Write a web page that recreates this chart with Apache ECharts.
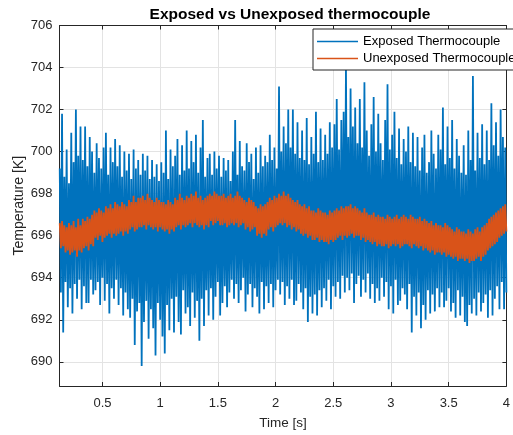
<!DOCTYPE html>
<html>
<head>
<meta charset="utf-8">
<script src="https://cdn.jsdelivr.net/npm/echarts@6/dist/echarts.min.js"></script>
<style>
  html, body { margin: 0; padding: 0; background: #ffffff; }
  #chart { width: 513px; height: 435px; }
</style>
</head>
<body>
<div id="chart"></div>
<script>
// Sample clock of the logger (seconds)
const timeStart = 0.13;
const timeStep = 0.01;

// Exposed thermocouple readings [K]
const exposedK = [
  699.2, 693.3, 701.8, 691.4, 698.8, 693.8, 700.1, 692.6, 698.5, 693.5,
  700.9, 692.3, 699.5, 693.7, 702.0, 693.0, 699.8, 693.9, 701.2, 692.5,
  699.6, 693.6, 701.2, 692.8, 699.3, 692.8, 700.7, 693.9, 700.0, 693.2,
  699.0, 693.4, 700.4, 693.8, 699.7, 692.7, 699.2, 694.0, 700.2, 692.9,
  700.9, 693.7, 698.9, 692.3, 700.2, 693.5, 699.5, 693.0, 700.6, 693.9,
  699.3, 692.7, 700.3, 693.5, 698.8, 692.2, 700.0, 693.3, 699.1, 692.5,
  699.9, 692.1, 698.7, 693.0, 700.1, 690.8, 699.2, 692.4, 699.6, 692.8,
  698.9, 689.8, 699.9, 691.9, 699.1, 692.9, 699.8, 691.1, 698.7, 692.5,
  699.6, 691.6, 698.8, 690.3, 699.4, 692.8, 698.6, 692.0, 699.5, 691.2,
  699.0, 690.4, 701.0, 692.7, 698.7, 691.5, 700.1, 693.0, 699.3, 691.4,
  699.8, 693.1, 700.6, 691.9, 698.9, 691.3, 700.3, 693.4, 699.1, 692.3,
  701.0, 692.6, 699.2, 691.7, 700.5, 693.3, 699.5, 692.1, 700.8, 692.9,
  699.0, 691.0, 700.2, 693.0, 701.5, 691.7, 698.8, 693.4, 699.7, 692.2,
  699.9, 693.5, 698.9, 692.0, 700.0, 693.1, 699.2, 693.8, 699.8, 692.2,
  698.8, 692.8, 699.7, 693.6, 699.1, 692.6, 699.6, 693.3, 698.6, 693.9,
  700.0, 693.0, 701.5, 693.7, 698.9, 692.8, 700.5, 693.4, 699.3, 694.0,
  699.1, 692.4, 700.4, 693.2, 699.5, 693.7, 699.9, 692.6, 698.7, 693.5,
  700.2, 693.1, 699.0, 692.3, 700.3, 693.8, 699.3, 692.5, 699.8, 693.6,
  699.5, 692.8, 700.8, 693.7, 699.6, 692.6, 700.2, 693.4, 699.2, 693.9,
  703.1, 693.2, 700.0, 693.8, 701.2, 692.7, 700.4, 693.6, 702.0, 693.0,
  700.2, 693.9, 702.0, 692.7, 699.9, 692.9, 701.4, 693.7, 699.7, 693.3,
  701.0, 692.5, 699.6, 693.5, 701.6, 691.9, 699.4, 693.1, 700.7, 692.3,
  699.9, 693.2, 701.9, 692.2, 699.5, 693.4, 701.1, 692.6, 699.6, 693.5,
  700.8, 692.9, 699.9, 693.9, 701.4, 692.5, 700.2, 693.6, 701.3, 693.1,
  702.5, 693.8, 700.1, 693.0, 701.5, 694.1, 701.9, 693.3, 704.1, 694.0,
  700.7, 693.4, 703.0, 694.2, 701.2, 692.8, 702.1, 693.7, 700.4, 694.1,
  702.5, 693.1, 700.2, 693.9, 703.3, 693.3, 701.0, 694.2, 699.8, 693.0,
  701.3, 693.7, 702.6, 692.8, 700.0, 693.5, 701.8, 692.9, 700.4, 694.0,
  699.6, 693.1, 701.5, 693.8, 703.2, 692.5, 700.1, 693.6, 700.8, 692.3,
  701.9, 693.9, 699.7, 692.7, 701.1, 692.9, 699.4, 693.5, 700.6, 693.2,
  700.0, 692.5, 701.2, 693.7, 699.5, 691.4, 700.9, 693.1, 699.3, 692.2,
  700.7, 693.3, 699.1, 691.6, 700.2, 692.7, 700.8, 692.0, 699.0, 693.4,
  699.5, 692.3, 701.0, 693.2, 699.9, 692.4, 699.2, 693.5, 700.8, 692.6,
  700.1, 693.3, 702.1, 692.6, 699.4, 692.9, 701.2, 693.5, 699.7, 692.4,
  701.5, 692.8, 699.2, 692.1, 700.6, 693.4, 699.8, 692.2, 699.0, 693.1,
  700.3, 691.9, 698.9, 691.7, 701.0, 692.7, 699.6, 692.3, 703.6, 693.0,
  699.1, 692.2, 700.9, 693.3, 699.7, 692.4, 701.3, 692.8, 699.4, 693.2,
  701.0, 692.1, 699.6, 693.4, 702.3, 692.2, 700.3, 693.0, 701.4, 693.6,
  699.8, 692.5, 702.0, 693.8, 700.7, 692.5, 700.2, 693.3
];

// Unexposed thermocouple readings [K]
const unexposedK = [
  696.6, 695.4, 696.7, 695.5, 696.5, 695.2, 696.4, 695.3, 696.6, 695.1,
  696.5, 695.2, 696.7, 695.3, 696.4, 695.0, 696.8, 695.3, 696.5, 695.2,
  696.8, 695.4, 696.7, 695.5, 696.9, 695.3, 696.8, 695.6, 697.0, 695.5,
  697.2, 695.9, 697.1, 695.8, 697.3, 696.0, 697.2, 695.7, 697.1, 695.9,
  697.4, 696.0, 697.3, 696.1, 697.5, 695.9, 697.3, 696.1, 697.6, 696.0,
  697.5, 696.1, 697.4, 696.2, 697.6, 696.0, 697.5, 696.2, 697.4, 696.1,
  697.7, 696.3, 697.6, 696.4, 697.9, 696.2, 697.6, 696.3, 697.8, 696.4,
  697.8, 696.4, 697.9, 696.5, 697.7, 696.3, 698.0, 696.5, 697.8, 696.4,
  697.7, 696.3, 697.6, 696.4, 697.8, 696.2, 697.7, 696.4, 697.6, 696.3,
  697.6, 696.2, 697.5, 696.3, 697.7, 696.1, 697.6, 696.3, 697.5, 696.2,
  697.8, 696.4, 697.7, 696.5, 698.0, 696.3, 697.8, 696.5, 697.7, 696.4,
  697.9, 696.5, 697.8, 696.6, 698.0, 696.4, 697.9, 696.6, 698.1, 696.5,
  697.8, 696.4, 697.9, 696.5, 697.7, 696.3, 697.8, 696.5, 697.9, 696.4,
  698.0, 696.7, 697.9, 696.5, 698.1, 696.6, 698.0, 696.7, 697.9, 696.5,
  697.9, 696.5, 698.0, 696.6, 697.8, 696.4, 697.9, 696.5, 698.0, 696.6,
  697.8, 696.5, 697.9, 696.6, 698.1, 696.4, 697.9, 696.5, 697.8, 696.6,
  697.7, 696.3, 697.6, 696.4, 697.8, 696.2, 697.7, 696.3, 697.6, 696.4,
  697.4, 696.0, 697.3, 696.1, 697.5, 695.9, 697.4, 696.1, 697.5, 696.0,
  697.6, 696.3, 697.8, 696.4, 697.7, 696.2, 697.9, 696.4, 697.8, 696.5,
  698.0, 696.6, 697.9, 696.5, 698.1, 696.6, 697.9, 696.4, 698.0, 696.5,
  697.8, 696.3, 697.7, 696.4, 697.6, 696.2, 697.7, 696.3, 697.5, 696.1,
  697.4, 696.0, 697.5, 696.1, 697.3, 695.9, 697.4, 696.0, 697.2, 695.8,
  697.2, 695.8, 697.1, 695.9, 697.3, 695.7, 697.2, 695.8, 697.1, 695.7,
  697.1, 695.7, 697.0, 695.6, 697.2, 695.8, 697.1, 695.7, 697.2, 695.8,
  697.3, 695.9, 697.2, 696.0, 697.4, 695.8, 697.3, 696.0, 697.4, 695.9,
  697.4, 696.0, 697.5, 696.1, 697.3, 695.9, 697.4, 696.0, 697.3, 696.0,
  697.2, 695.8, 697.1, 695.9, 697.3, 695.7, 697.1, 695.8, 697.0, 695.7,
  697.0, 695.6, 697.1, 695.7, 696.9, 695.5, 697.0, 695.6, 696.9, 695.5,
  696.9, 695.5, 696.8, 695.6, 697.0, 695.4, 696.9, 695.5, 696.8, 695.6,
  696.9, 695.5, 697.0, 695.6, 696.8, 695.4, 696.9, 695.5, 697.0, 695.6,
  696.9, 695.6, 696.8, 695.5, 697.0, 695.4, 696.9, 695.6, 696.8, 695.5,
  696.8, 695.4, 696.9, 695.5, 696.7, 695.3, 696.8, 695.4, 696.7, 695.3,
  696.6, 695.2, 696.7, 695.3, 696.5, 695.1, 696.6, 695.2, 696.5, 695.2,
  696.5, 695.1, 696.4, 695.2, 696.6, 695.0, 696.5, 695.1, 696.4, 695.0,
  696.3, 694.9, 696.2, 695.0, 696.4, 694.8, 696.3, 694.9, 696.2, 694.9,
  696.2, 694.8, 696.1, 694.9, 696.3, 694.7, 696.2, 694.8, 696.1, 694.8,
  696.3, 694.9, 696.4, 695.0, 696.2, 694.8, 696.4, 695.0, 696.5, 695.1,
  696.6, 695.3, 696.8, 695.4, 696.9, 695.5, 697.0, 695.6, 697.1, 695.7,
  697.2, 695.9, 697.3, 696.0, 697.4, 696.1, 697.5, 696.2
];

// Axis ticks
const xTicks = [0.5, 1, 1.5, 2, 2.5, 3, 3.5, 4];
const yTicks = [690, 692, 694, 696, 698, 700, 702, 704, 706];

const seriesNames = ['Exposed Thermocouple', 'Unexposed Thermocouple'];
const seriesColors = ['#0072BD', '#D95319'];

const toPairs = (vals) => vals.map((v, i) => [+(timeStart + i * timeStep).toFixed(2), v]);

const FONT = 'Liberation Sans, Arial, Helvetica, sans-serif';
const INK = '#262626';
const X_MIN = 0.128, X_MAX = 4.0;
const Y_MIN = 688.85, Y_MAX = 706;

const chart = echarts.init(document.getElementById('chart'), null, { renderer: 'canvas' });

const baseX = {
  type: 'value', min: X_MIN, max: X_MAX,
  axisLine: { show: true, onZero: false, lineStyle: { color: INK, width: 1 } },
  axisTick: { show: true, inside: true, length: 4, customValues: xTicks, lineStyle: { color: INK } },
  splitLine: { show: false },
  axisLabel: { show: false }
};
const baseY = {
  type: 'value', min: Y_MIN, max: Y_MAX,
  axisLine: { show: true, onZero: false, lineStyle: { color: INK, width: 1 } },
  axisTick: { show: true, inside: true, length: 4, customValues: yTicks, lineStyle: { color: INK } },
  splitLine: { show: false },
  axisLabel: { show: false }
};

chart.setOption({
  animation: false,
  backgroundColor: '#ffffff',
  title: {
    text: 'Exposed vs Unexposed thermocouple',
    left: 285, top: 2, textAlign: 'center',
    textStyle: { fontFamily: FONT, fontSize: 15.5, fontWeight: 'bold', color: '#000000' }
  },
  grid: { left: 59.5, right: 1.5, top: 25.5, bottom: 47.5, containLabel: false },
  legend: {
    orient: 'vertical',
    left: 313, top: 29,
    data: seriesNames,
    icon: 'rect',
    itemWidth: 41, itemHeight: 1.5, itemGap: 4,
    padding: [6, 6, 5, 4],
    backgroundColor: '#ffffff',
    borderColor: INK, borderWidth: 1,
    textStyle: { fontFamily: FONT, fontSize: 13, color: '#000000', padding: [0, 0, 0, 0] }
  },
  xAxis: [
    Object.assign({}, baseX, {
      position: 'bottom',
      name: 'Time [s]', nameLocation: 'middle', nameGap: 30, nameMoveOverlap: false,
      nameTextStyle: { fontFamily: FONT, fontSize: 13.5, color: INK },
      splitLine: { show: true, lineStyle: { color: '#e3e3e3', width: 1 } },
      axisLabel: { show: true, customValues: xTicks, margin: 11, fontFamily: FONT, fontSize: 13, color: INK,
        formatter: (v) => String(v) }
    }),
    Object.assign({}, baseX, { position: 'top' })
  ],
  yAxis: [
    Object.assign({}, baseY, {
      position: 'left',
      name: 'Temperature [K]', nameLocation: 'middle', nameGap: 33, nameMoveOverlap: false,
      nameTextStyle: { fontFamily: FONT, fontSize: 14, color: INK },
      splitLine: { show: true, lineStyle: { color: '#e3e3e3', width: 1 } },
      axisLabel: { show: true, customValues: yTicks, margin: 7, fontFamily: FONT, fontSize: 13, color: INK,
        formatter: (v) => String(v) }
    }),
    Object.assign({}, baseY, { position: 'right' })
  ],
  series: [
    {
      name: seriesNames[0], type: 'line', xAxisIndex: 0, yAxisIndex: 0,
      data: toPairs(exposedK), showSymbol: false, symbol: 'none', sampling: null,
      color: seriesColors[0], lineStyle: { color: seriesColors[0], width: 1.8 }, z: 2
    },
    {
      name: seriesNames[1], type: 'line', xAxisIndex: 0, yAxisIndex: 0,
      data: toPairs(unexposedK), showSymbol: false, symbol: 'none', sampling: null,
      color: seriesColors[1], lineStyle: { color: seriesColors[1], width: 1.8 }, z: 3
    }
  ]
});
</script>
</body>
</html>
